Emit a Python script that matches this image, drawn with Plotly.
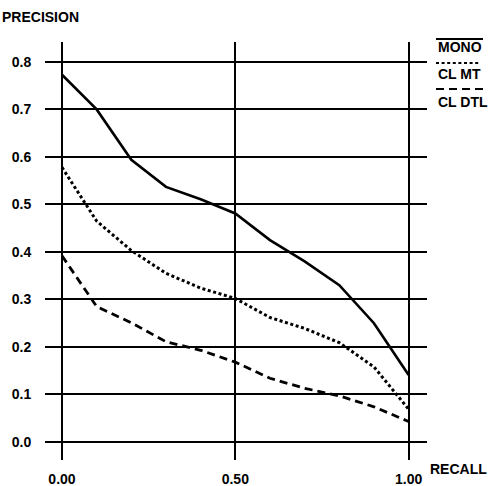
import plotly.graph_objects as go

recall = [0.0, 0.1, 0.2, 0.3, 0.4, 0.5, 0.6, 0.7, 0.8, 0.9, 1.0]
mono = [0.773, 0.700, 0.594, 0.537, 0.511, 0.481, 0.425, 0.380, 0.330, 0.250, 0.141]
cl_mt = [0.578, 0.465, 0.403, 0.355, 0.324, 0.302, 0.262, 0.239, 0.209, 0.158, 0.069]
cl_dtl = [0.392, 0.285, 0.251, 0.211, 0.193, 0.168, 0.134, 0.113, 0.097, 0.074, 0.043]

x_ticks = [0.0, 0.5, 1.0]
x_labels = ["0.00", "0.50", "1.00"]
y_ticks = [0.0, 0.1, 0.2, 0.3, 0.4, 0.5, 0.6, 0.7, 0.8]
y_labels = ["0.0", "0.1", "0.2", "0.3", "0.4", "0.5", "0.6", "0.7", "0.8"]

series_names = ["MONO", "CL MT", "CL DTL"]

W, H = 488, 486
L, R, T, B = 45, 61, 42, 26
PW, PH = W - L - R, H - T - B
FONT = "Liberation Sans, Arial, sans-serif"


def px(xpix):
    return (xpix - L) / PW


def py(ypix):
    return (H - B - ypix) / PH


fig = go.Figure()
styles = [
    dict(color="black", width=2.6, dash="solid"),
    dict(color="black", width=3, dash="3px,2.6px"),
    dict(color="black", width=2.8, dash="8px,5px"),
]
for name, vals, st in zip(series_names, [mono, cl_mt, cl_dtl], styles):
    fig.add_trace(go.Scatter(x=recall, y=vals, mode="lines", name=name, line=st,
                             showlegend=False, hoverinfo="skip"))

fig.update_layout(
    template="none",
    width=W, height=H, autosize=False,
    margin=dict(l=L, r=R, t=T, b=B, pad=0),
    paper_bgcolor="white", plot_bgcolor="white",
    font=dict(family=FONT, size=14, color="black"),
    xaxis=dict(range=[-0.049, 1.053], tickvals=x_ticks, ticktext=x_labels,
               showgrid=True, gridcolor="black", gridwidth=1.6, zeroline=False,
               showline=False, ticks="outside", ticklen=6, automargin=False,
               tickcolor="rgba(0,0,0,0)",
               tickfont=dict(family=FONT, size=14, color="black", weight="bold")),
    yaxis=dict(range=[-0.038, 0.842], tickvals=y_ticks, ticktext=y_labels,
               showgrid=True, gridcolor="black", gridwidth=1.6, zeroline=False,
               showline=False, ticks="outside", ticklen=10, automargin=False,
               tickcolor="rgba(0,0,0,0)",
               tickfont=dict(family=FONT, size=14, color="black", weight="bold")),
)

ann = [
    ("PRECISION", 0, 17),
    ("RECALL", 428, 469),
    (series_names[0], 436, 47),
    (series_names[1], 436, 74),
    (series_names[2], 436, 102),
]
for text, xl, yc in ann:
    fig.add_annotation(text="<b>" + text + "</b>", xref="paper", yref="paper",
                       x=px(xl), y=py(yc), xanchor="left", yanchor="middle",
                       showarrow=False, font=dict(family=FONT, size=14, color="black"))

legend_lines = [(436, 483, 39, "solid"), (436, 480, 63, "3px,2.6px"), (436, 483, 89, "8px,5px")]
for x0, x1, yy, d in legend_lines:
    fig.add_shape(type="line", xref="paper", yref="paper",
                  x0=px(x0), x1=px(x1), y0=py(yy), y1=py(yy),
                  line=dict(color="black", width=2.2, dash=d))

fig.write_html("out.html", config={"displayModeBar": False},
               post_script="document.body.style.margin='0';document.body.style.overflow='hidden';")
